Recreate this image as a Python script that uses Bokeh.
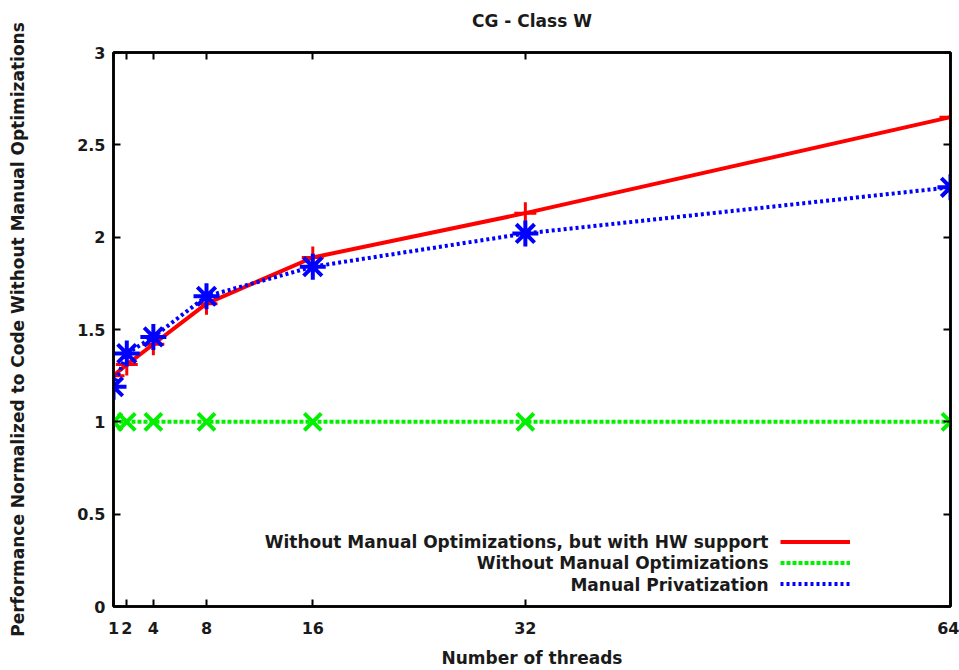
from bokeh.plotting import figure
from bokeh.models import (ColumnDataSource, Range1d, LinearAxis, FixedTicker,
                          Legend, LegendItem, Label, CustomLabelingPolicy)
from bokeh.core.properties import value
from bokeh.embed import file_html
from bokeh.resources import INLINE

threads = [1, 2, 4, 8, 16, 32, 64]
hw_support = [1.25, 1.31, 1.42, 1.64, 1.89, 2.13, 2.65]
no_manual = [1.0, 1.0, 1.0, 1.0, 1.0, 1.0, 1.0]
manual_priv = [1.19, 1.37, 1.46, 1.68, 1.84, 2.02, 2.27]
y_ticks = [0, 0.5, 1, 1.5, 2, 2.5, 3]
series_labels = ["Without Manual Optimizations, but with HW support",
                 "Without Manual Optimizations",
                 "Manual Privatization"]
title_text = "CG - Class W"

FONT = "DejaVu Sans"
TXT = "#1a1a1a"

src = ColumnDataSource(dict(x=threads, hw=hw_support, nm=no_manual, mp=manual_priv))

p = figure(width=959, height=670, output_backend="svg", toolbar_location=None,
           x_range=Range1d(1, 64), y_range=Range1d(0, 3),
           min_border_left=113, min_border_right=9, min_border_top=52,
           min_border_bottom=64)
p.grid.visible = False
p.outline_line_color = "black"
p.outline_line_width = 2.5
p.background_fill_color = "white"
p.border_fill_color = "white"

for ax in [p.xaxis[0], p.yaxis[0]]:
    ax.major_tick_in = 7
    ax.major_tick_out = 0
    ax.minor_tick_in = 0
    ax.minor_tick_out = 0
    ax.axis_line_width = 2.5
    ax.major_tick_line_width = 2
    ax.major_label_text_font = FONT
    ax.major_label_text_font_size = "16px"
    ax.major_label_text_font_style = "bold"
    ax.major_label_text_color = TXT
    ax.axis_label_text_font = FONT
    ax.axis_label_text_font_size = "17px"
    ax.axis_label_text_font_style = "bold"
    ax.axis_label_text_color = TXT

p.xaxis[0].ticker = FixedTicker(ticks=threads)
p.yaxis[0].ticker = FixedTicker(ticks=y_ticks)
p.yaxis[0].major_label_overrides = {0: "0", 1: "1", 2: "2", 3: "3"}
p.xaxis[0].axis_label = "Number of threads"
p.yaxis[0].axis_label = "Performance Normalized to Code Without Manual Optimizations"
p.xaxis[0].major_label_standoff = 15
p.yaxis[0].major_label_standoff = 8
p.xaxis[0].axis_label_standoff = 11
p.yaxis[0].axis_label_standoff = 46

# mirrored ticks on right and top (no tick labels)
def mirror_axis(ticks):
    return LinearAxis(ticker=FixedTicker(ticks=ticks), major_tick_in=7, major_tick_out=0,
                      minor_tick_in=0, minor_tick_out=0,
                      major_label_policy=CustomLabelingPolicy(code="for (const i of indices) indices.unset(i)"),
                      major_label_text_font_size="0px",
                      major_label_standoff=0, axis_line_width=2.5, major_tick_line_width=2)

p.add_layout(mirror_axis(y_ticks), "right")
top_axis = mirror_axis(threads)
top_axis.axis_label = title_text
top_axis.axis_label_standoff = 22
top_axis.axis_label_text_font = FONT
top_axis.axis_label_text_font_size = "17px"
top_axis.axis_label_text_font_style = "bold"
top_axis.axis_label_text_color = TXT
p.add_layout(top_axis, "above")

red, green, blue = "#ff0000", "#00f000", "#0000ff"

r1 = p.line("x", "hw", source=src, color=red, line_width=4)
m1 = p.scatter("x", "hw", source=src, marker="cross", size=22, line_color=red, line_width=3)
r2 = p.line("x", "nm", source=src, color=green, line_width=4, line_dash="4 2")
m2 = p.scatter("x", "nm", source=src, marker="x", size=24, line_color=green, line_width=4)
r3 = p.line("x", "mp", source=src, color=blue, line_width=4, line_dash="3 3")
m3 = p.scatter("x", "mp", source=src, marker="asterisk", size=26, line_color=blue, line_width=4)

legend = Legend(items=[LegendItem(label=value(" "), renderers=[r1]),
                       LegendItem(label=value(" "), renderers=[r2]),
                       LegendItem(label=value(" "), renderers=[r3])],
                location=(667, 12), glyph_width=70, glyph_height=21, label_height=21,
                spacing=0, padding=0, margin=0, border_line_color=None,
                background_fill_alpha=0, label_text_font_size="10px")
p.add_layout(legend, "center")

for i, txt in enumerate(series_labels):
    p.add_layout(Label(x=655, y=65 - 21.5 * i, x_units="screen", y_units="screen",
                       text=txt, text_align="right", text_baseline="middle",
                       text_font=FONT, text_font_size="17px", text_font_style="bold",
                       text_color=TXT))

open("out.html", "w").write(file_html(p, INLINE))
